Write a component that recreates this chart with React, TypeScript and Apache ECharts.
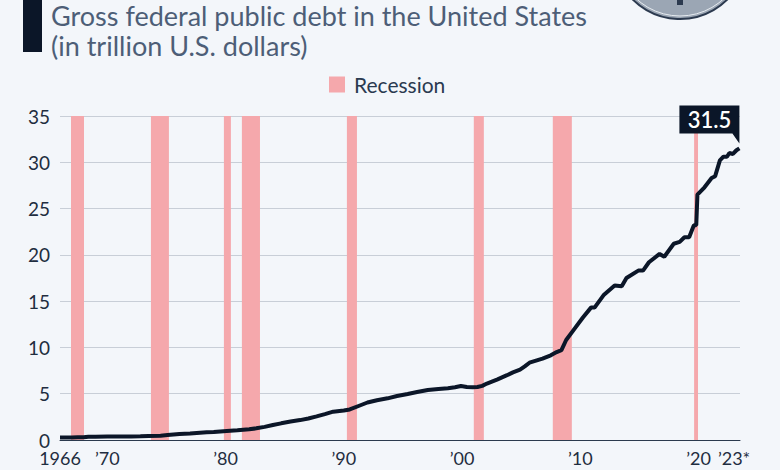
import React, { useEffect, useRef } from "react";
import * as echarts from "echarts";

const FONT = "Lato, 'Noto Sans', sans-serif";

const titleLine = "Gross federal public debt in the United States";
const subtitleLine = "(in trillion U.S. dollars)";

const debtYears = [
  1966.0, 1966.5, 1967.0, 1967.5, 1968.0, 1968.4, 1969.0, 1970.0, 1971.0, 1972.0,
  1972.8, 1973.5, 1974.5, 1975.1, 1976.1, 1977.0, 1978.4, 1979.0, 1980.1, 1981.0,
  1982.0, 1982.6, 1983.3, 1984.0, 1984.7, 1985.5, 1986.3, 1987.0, 1987.7, 1988.4,
  1989.1, 1990.0, 1990.5, 1991.3, 1992.0, 1992.8, 1993.7, 1994.5, 1995.4, 1996.2, 1997.1,
  1998.0, 1998.8, 1999.4, 1999.9, 2000.4, 2000.9, 2001.3, 2001.7, 2002.1, 2003.0,
  2003.8, 2004.3, 2004.9, 2005.3, 2005.7, 2006.8, 2007.5, 2008.0, 2008.4, 2008.8,
  2009.5, 2010.2, 2010.9, 2011.2, 2012.0, 2012.9, 2013.5, 2013.9, 2014.9, 2015.3,
  2015.8, 2016.7, 2017.1, 2017.9, 2018.4, 2018.8, 2019.2, 2019.6, 2019.8, 2019.9,
  2020.5, 2021.1, 2021.4, 2021.8, 2022.1, 2022.4, 2022.6, 2022.9, 2023.2, 2023.45,
];
const debtValues = [
  0.27, 0.28, 0.28, 0.29, 0.3, 0.36, 0.36, 0.37, 0.38, 0.39,
  0.4, 0.44, 0.47, 0.54, 0.65, 0.7, 0.83, 0.86, 0.97, 1.05,
  1.15, 1.26, 1.42, 1.62, 1.8, 2.0, 2.15, 2.32, 2.55, 2.8,
  3.06, 3.18, 3.3, 3.7, 4.05, 4.3, 4.5, 4.75, 4.97, 5.18, 5.4,
  5.52, 5.6, 5.7, 5.83, 5.72, 5.7, 5.72, 5.85, 6.1, 6.55,
  7.0, 7.3, 7.6, 7.95, 8.35, 8.8, 9.15, 9.5, 9.7, 10.8,
  12.0, 13.2, 14.3, 14.3, 15.7, 16.7, 16.6, 17.5, 18.3, 18.3,
  19.2, 20.1, 19.8, 21.2, 21.4, 21.9, 21.9, 23.2, 23.2, 26.5,
  27.3, 28.3, 28.5, 30.2, 30.6, 30.6, 31.0, 30.9, 31.3, 31.5,
];

const recessionStarts = [1966.93, 1973.69, 1979.86, 1981.38, 1990.26, 2000.99, 2007.67, 2019.62];
const recessionEnds = [1968.03, 1975.21, 1980.45, 1982.91, 1991.11, 2001.84, 2009.28, 2019.95];

const xTickValues = [1966, 1970, 1980, 1990, 2000, 2010, 2020, 2023];
const xTickLabels = ["1966", "’70", "’80", "’90", "’00", "’10", "’20", "’23*"];

const lastLabel = "31.5";

export default function App() {
  const ref = useRef<HTMLDivElement>(null);
  useEffect(() => {
    if (!ref.current) return;
    const chart = echarts.init(ref.current, null, { renderer: "svg" });
    const lineData = debtYears.map((y, i) => [y, debtValues[i]]);
    const lastIdx = debtYears.length - 1;
    chart.setOption({
      animation: false,
      backgroundColor: "#f3f6fa",
      textStyle: { fontFamily: FONT },
      title: {
        text: titleLine,
        subtext: subtitleLine,
        left: 51,
        top: 2,
        padding: 0,
        itemGap: 3,
        textStyle: {
          fontFamily: FONT,
          fontSize: 27,
          lineHeight: 27,
          fontWeight: "normal",
          color: "#4d5e77",
        },
        subtextStyle: {
          fontFamily: FONT,
          fontSize: 27,
          lineHeight: 27,
          fontWeight: "normal",
          color: "#4d5e77",
        },
      },
      legend: {
        data: ["Recession"],
        left: 329,
        top: 74,
        padding: 0,
        icon: "rect",
        itemWidth: 16,
        itemHeight: 16,
        textStyle: { fontFamily: FONT, fontSize: 21, color: "#2a3a50", padding: [0, 0, 0, 4] },
      },
      graphic: [
        { type: "rect", shape: { x: 23, y: 0, width: 19, height: 52 }, style: { fill: "#0b1628" } },
        {
          type: "circle",
          shape: { cx: 680, cy: -48, r: 67 },
          style: { fill: "#9ba6b4", stroke: "#2c3a4f", lineWidth: 2 },
        },
        {
          type: "circle",
          shape: { cx: 680, cy: -48, r: 64 },
          style: { fill: "none", stroke: "#e6ebf0", lineWidth: 1 },
        },
        { type: "rect", shape: { x: 677, y: 0, width: 6, height: 5 }, style: { fill: "#2c3a4f" } },
      ],
      grid: { left: 60, right: 40, top: 116, bottom: 30, containLabel: false },
      xAxis: {
        type: "value",
        min: 1966,
        max: 2023.5,
        axisLine: { show: true, lineStyle: { color: "#2b3a4e", width: 1 } },
        axisTick: { show: false },
        splitLine: { show: false },
        axisLabel: {
          customValues: xTickValues,
          formatter: (v: number) => {
            const i = xTickValues.indexOf(Math.round(v));
            return i >= 0 ? xTickLabels[i] : "";
          },
          fontFamily: FONT,
          fontSize: 18,
          lineHeight: 18,
          color: "#1f2d40",
          margin: 9,
        },
      },
      yAxis: {
        type: "value",
        min: 0,
        max: 35,
        interval: 5,
        axisLine: { show: false },
        axisTick: { show: false },
        splitLine: { lineStyle: { color: "#c8ced7", width: 1 } },
        axisLabel: {
          fontFamily: FONT,
          fontSize: 19,
          lineHeight: 17,
          padding: [0, 0, 4, 0],
          color: "#1f2d40",
          margin: 10,
        },
      },
      series: [
        {
          name: "Recession",
          type: "line",
          data: [],
          itemStyle: { color: "#f5a8ac" },
          markArea: {
            silent: true,
            itemStyle: { color: "#f5a8ac", opacity: 1 },
            data: recessionStarts.map((s, i) => [{ xAxis: s }, { xAxis: recessionEnds[i] }]),
          },
        },
        {
          name: "Debt",
          type: "line",
          data: lineData,
          showSymbol: false,
          lineStyle: { color: "#0b1628", width: 4 },
          itemStyle: { color: "#0b1628" },
          z: 5,
          markPoint: {
            symbol: "path://M0,0H60V38L53,28H0Z",
            symbolSize: [60, 38],
            symbolKeepAspect: false,
            symbolOffset: [-30, -24],
            itemStyle: { color: "#0b1628" },
            label: {
              show: true,
              position: "inside",
              offset: [0, -5],
              formatter: lastLabel,
              color: "#ffffff",
              fontFamily: FONT,
              fontSize: 22,
              fontWeight: 600,
            },
            data: [{ coord: [debtYears[lastIdx], debtValues[lastIdx]], value: debtValues[lastIdx] }],
          },
        },
      ],
    });
    return () => chart.dispose();
  }, []);
  return (
    <div
      ref={ref}
      style={{ position: "absolute", left: 0, top: 0, width: 780, height: 470 }}
    />
  );
}
